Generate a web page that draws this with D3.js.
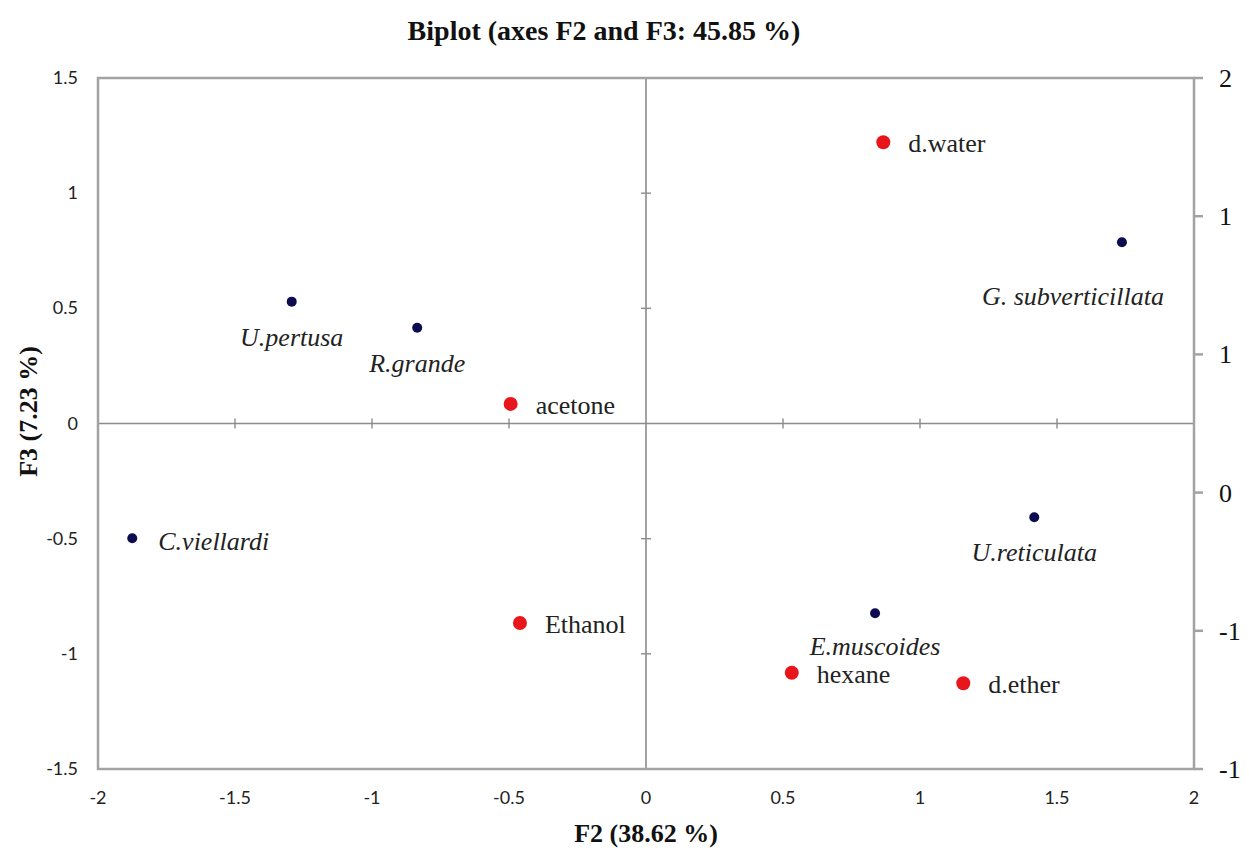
<!DOCTYPE html>
<html>
<head>
<meta charset="utf-8">
<script src="https://cdn.jsdelivr.net/npm/d3@7"></script>
<style>
  body { margin: 0; background: #fff; }
  .frame { stroke: #a3a3a3; stroke-width: 2.5; fill: none; }
  .zero-line { stroke: #8c8c8c; stroke-width: 1.6; }
  .tick-mark { stroke: #8c8c8c; stroke-width: 1.4; }
  .tick-label { font-family: Lato, "Open Sans", sans-serif; font-size: 18px; fill: #222; }
  .right-label { font-family: "Liberation Serif", "Times New Roman", serif; font-size: 26px; fill: #111; }
  .axis-title { font-family: "Liberation Serif", "Times New Roman", serif; font-size: 26px; font-weight: bold; fill: #111; }
  .chart-title { font-size: 28px; }
  .point-label { font-family: "Liberation Serif", "Times New Roman", serif; font-size: 26px; fill: #222; }
</style>
</head>
<body>
<div id="wrapper"></div>
<script>

// 1. Data

const species = ["U.pertusa", "R.grande", "G. subverticillata", "C.viellardi", "U.reticulata", "E.muscoides"];
const speciesF2 = [-1.293, -0.835, 1.737, -1.875, 1.417, 0.836];
const speciesF3 = [0.529, 0.416, 0.787, -0.498, -0.407, -0.824];

const solvents = ["d.water", "acetone", "Ethanol", "hexane", "d.ether"];
const solventsF2 = [0.866, -0.494, -0.46, 0.532, 1.158];
const solventsF3 = [1.221, 0.085, -0.866, -1.082, -1.128];

const xTicks = [-2, -1.5, -1, -0.5, 0, 0.5, 1, 1.5, 2];
const yTicks = [-1.5, -1, -0.5, 0, 0.5, 1, 1.5];
const rightTicks = [-1, -0.5, 0, 0.5, 1, 1.5];

const titleText = "Biplot (axes F2 and F3: 45.85 %)";
const xTitle = "F2 (38.62 %)";
const yTitle = "F3 (7.23 %)";

// 2. Dimensions

const dimensions = {
  width: 1249,
  height: 850,
  margin: { top: 78, right: 55, bottom: 81, left: 98 },
};
dimensions.boundedWidth = dimensions.width - dimensions.margin.left - dimensions.margin.right;
dimensions.boundedHeight = dimensions.height - dimensions.margin.top - dimensions.margin.bottom;

// label placement, relative to the dot
const labelPlacement = {
  "C.viellardi": { dx: 26, dy: 12, anchor: "start" },
  "G. subverticillata": { dx: -49, dy: 63, anchor: "middle" },
  "E.muscoides": { dx: 0, dy: 42, anchor: "middle" },
};
const speciesDefault = { dx: 0, dy: 44, anchor: "middle" };
const solventDefault = { dx: 25, dy: 10, anchor: "start" };

// 3. Canvas

const wrapper = d3.select("#wrapper")
  .append("svg")
  .attr("width", dimensions.width)
  .attr("height", dimensions.height);

const bounds = wrapper.append("g")
  .attr("transform", `translate(${dimensions.margin.left},${dimensions.margin.top})`);

// 4. Scales

const xScale = d3.scaleLinear()
  .domain([-2, 2])
  .range([0, dimensions.boundedWidth]);

const yScale = d3.scaleLinear()
  .domain([-1.5, 1.5])
  .range([dimensions.boundedHeight, 0]);

// secondary axis on the right, labels rounded to integers
const yRightScale = d3.scaleLinear()
  .domain([-1, 1.5])
  .range([dimensions.boundedHeight, 0]);

// 5. Peripherals

const peripherals = bounds.append("g");

// zero lines
peripherals.append("line")
  .attr("class", "zero-line")
  .attr("x1", 0).attr("x2", dimensions.boundedWidth)
  .attr("y1", yScale(0)).attr("y2", yScale(0));
peripherals.append("line")
  .attr("class", "zero-line")
  .attr("x1", xScale(0)).attr("x2", xScale(0))
  .attr("y1", 0).attr("y2", dimensions.boundedHeight);

// tick marks crossing the zero lines
xTicks.filter(d => d !== 0 && Math.abs(d) !== 2).forEach(d => {
  peripherals.append("line")
    .attr("class", "tick-mark")
    .attr("x1", xScale(d)).attr("x2", xScale(d))
    .attr("y1", yScale(0) - 5).attr("y2", yScale(0) + 5);
});
yTicks.filter(d => d !== 0 && Math.abs(d) !== 1.5).forEach(d => {
  peripherals.append("line")
    .attr("class", "tick-mark")
    .attr("x1", xScale(0) - 5).attr("x2", xScale(0) + 5)
    .attr("y1", yScale(d)).attr("y2", yScale(d));
});

// frame
peripherals.append("rect")
  .attr("class", "frame")
  .attr("width", dimensions.boundedWidth)
  .attr("height", dimensions.boundedHeight);

// right axis ticks
rightTicks.forEach(d => {
  peripherals.append("line")
    .attr("class", "frame")
    .attr("x1", dimensions.boundedWidth).attr("x2", dimensions.boundedWidth + 9)
    .attr("y1", yRightScale(d)).attr("y2", yRightScale(d));
});

// tick labels
const fmt = d => String(d).replace("\u2212", "-");
const fmtRound = d => (Math.abs(d) < 1e-9 ? "0" : d.toFixed(0));

peripherals.selectAll(".x-label")
  .data(xTicks)
  .join("text")
  .attr("class", "tick-label")
  .attr("x", d => xScale(d))
  .attr("y", dimensions.boundedHeight + 35)
  .attr("text-anchor", "middle")
  .text(fmt);

peripherals.selectAll(".y-label")
  .data(yTicks)
  .join("text")
  .attr("class", "tick-label")
  .attr("x", -20)
  .attr("y", d => yScale(d) + 6)
  .attr("text-anchor", "end")
  .text(fmt);

peripherals.selectAll(".r-label")
  .data(rightTicks)
  .join("text")
  .attr("class", "right-label")
  .attr("x", dimensions.boundedWidth + 25)
  .attr("y", d => yRightScale(d) + 9)
  .attr("text-anchor", "start")
  .text(fmtRound);

// titles
wrapper.append("text")
  .attr("class", "axis-title chart-title")
  .attr("x", 604)
  .attr("y", 40)
  .attr("text-anchor", "middle")
  .text(titleText);

wrapper.append("text")
  .attr("class", "axis-title")
  .attr("x", dimensions.margin.left + xScale(0))
  .attr("y", 842)
  .attr("text-anchor", "middle")
  .text(xTitle);

wrapper.append("text")
  .attr("class", "axis-title")
  .attr("transform", `translate(37,${dimensions.margin.top + yScale(0) - 12}) rotate(-90)`)
  .attr("text-anchor", "middle")
  .text(yTitle);

// 6. Draw data

const speciesData = species.map((name, i) => ({ name, x: speciesF2[i], y: speciesF3[i] }));
const solventData = solvents.map((name, i) => ({ name, x: solventsF2[i], y: solventsF3[i] }));

const dots = bounds.append("g");

dots.selectAll(".species-dot")
  .data(speciesData)
  .join("circle")
  .attr("cx", d => xScale(d.x))
  .attr("cy", d => yScale(d.y))
  .attr("r", 5)
  .attr("fill", "#0c0c4e");

dots.selectAll(".solvent-dot")
  .data(solventData)
  .join("circle")
  .attr("cx", d => xScale(d.x))
  .attr("cy", d => yScale(d.y))
  .attr("r", 7)
  .attr("fill", "#e8151b");

dots.selectAll(".species-label")
  .data(speciesData)
  .join("text")
  .attr("class", "point-label")
  .style("font-style", "italic")
  .attr("x", d => xScale(d.x) + (labelPlacement[d.name] || speciesDefault).dx)
  .attr("y", d => yScale(d.y) + (labelPlacement[d.name] || speciesDefault).dy)
  .attr("text-anchor", d => (labelPlacement[d.name] || speciesDefault).anchor)
  .text(d => d.name);

dots.selectAll(".solvent-label")
  .data(solventData)
  .join("text")
  .attr("class", "point-label")
  .attr("x", d => xScale(d.x) + solventDefault.dx)
  .attr("y", d => yScale(d.y) + solventDefault.dy)
  .attr("text-anchor", solventDefault.anchor)
  .text(d => d.name);

</script>
</body>
</html>
